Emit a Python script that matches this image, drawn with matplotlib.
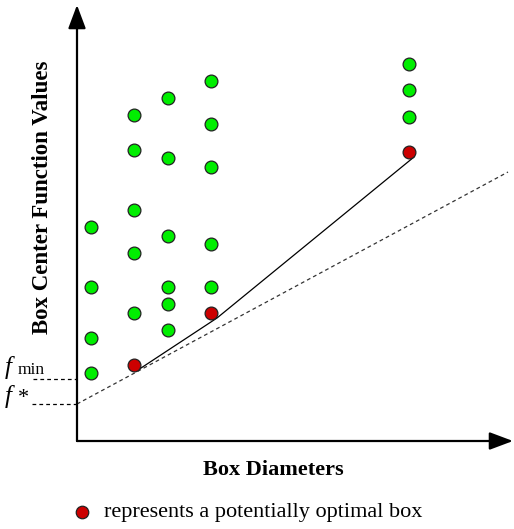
import matplotlib.pyplot as plt

plt.rcParams['font.family'] = ['Liberation Serif', 'DejaVu Serif']

# box diameters (columns) and centre function values
green_x = [1.4] * 4 + [5.7] * 5 + [9.1] * 6 + [13.4] * 5 + [33.2] * 3
green_y = [21.4, 15.4, 10.3, 6.8,
           32.6, 29.1, 23.1, 18.8, 12.8,
           34.3, 28.3, 20.5, 15.4, 13.7, 11.1,
           36.0, 31.7, 27.4, 19.7, 15.4,
           37.7, 35.1, 32.4]
red_x = [5.7, 13.4, 33.2]
red_y = [7.6, 12.8, 28.9]

# lower right hull and the lower bound line
hull_x = [6.1, 14.0, 33.7]
hull_y = [7.1, 12.3, 28.4]
bound_x = [0.0, 43.1]
bound_y = [3.7, 26.9]
f_min = 6.2
f_star = 3.7

fig = plt.figure(figsize=(5.14, 5.29), dpi=100)
ax = fig.add_axes([0, 0, 1, 1])
ax.set_xlim(-7.7, 43.7)
ax.set_ylim(-8.8, 44.1)
ax.set_axis_off()

# axes with arrows
arrow = dict(arrowstyle='-|>,head_length=0.4,head_width=0.15', lw=1.6,
             color='black', mutation_scale=36, shrinkA=0, shrinkB=0)
ax.annotate('', xy=(0, 43.6), xytext=(0, 0), arrowprops=arrow)
ax.annotate('', xy=(43.6, 0), xytext=(0, 0), arrowprops=arrow)

ax.plot(bound_x, bound_y, color='#333333', lw=0.9, dashes=(3, 2.5))
ax.plot(hull_x, hull_y, color='black', lw=0.9)
ax.plot([-4.4, 0], [f_min, f_min], color='black', lw=0.9, dashes=(3, 2.5))
ax.plot([-4.5, 0], [f_star, f_star], color='black', lw=0.9, dashes=(3, 2.5))

ax.plot(green_x, green_y, 'o', ms=9.2, mfc='#00ee00', mec='#222222', mew=0.9)
ax.plot(red_x, red_y, 'o', ms=9.2, mfc='#cc0000', mec='#222222', mew=0.9)

ax.text(-7.2, 6.7, 'f', fontsize=18, style='italic', ha='left', va='baseline')
ax.text(-5.9, 6.7, 'min', fontsize=12.5, ha='left', va='baseline')
ax.text(-7.2, 3.8, 'f', fontsize=18, style='italic', ha='left', va='baseline')
ax.text(-5.9, 3.8, '*', fontsize=16, ha='left', va='baseline')

ax.text(-3.4, 24.4, 'Box Center Function Values', rotation=90, fontsize=16.5,
        fontweight='bold', ha='center', va='center')
ax.text(19.6, -2.9, 'Box Diameters', fontsize=16, fontweight='bold',
        ha='center', va='center')

ax.plot([0.5], [-7.1], 'o', ms=9, mfc='#cc0000', mec='#222222', mew=0.9,
        clip_on=False)
ax.text(2.7, -7.1, 'represents a potentially optimal box', fontsize=16,
        ha='left', va='center')

fig.savefig('out.png', dpi=100)
